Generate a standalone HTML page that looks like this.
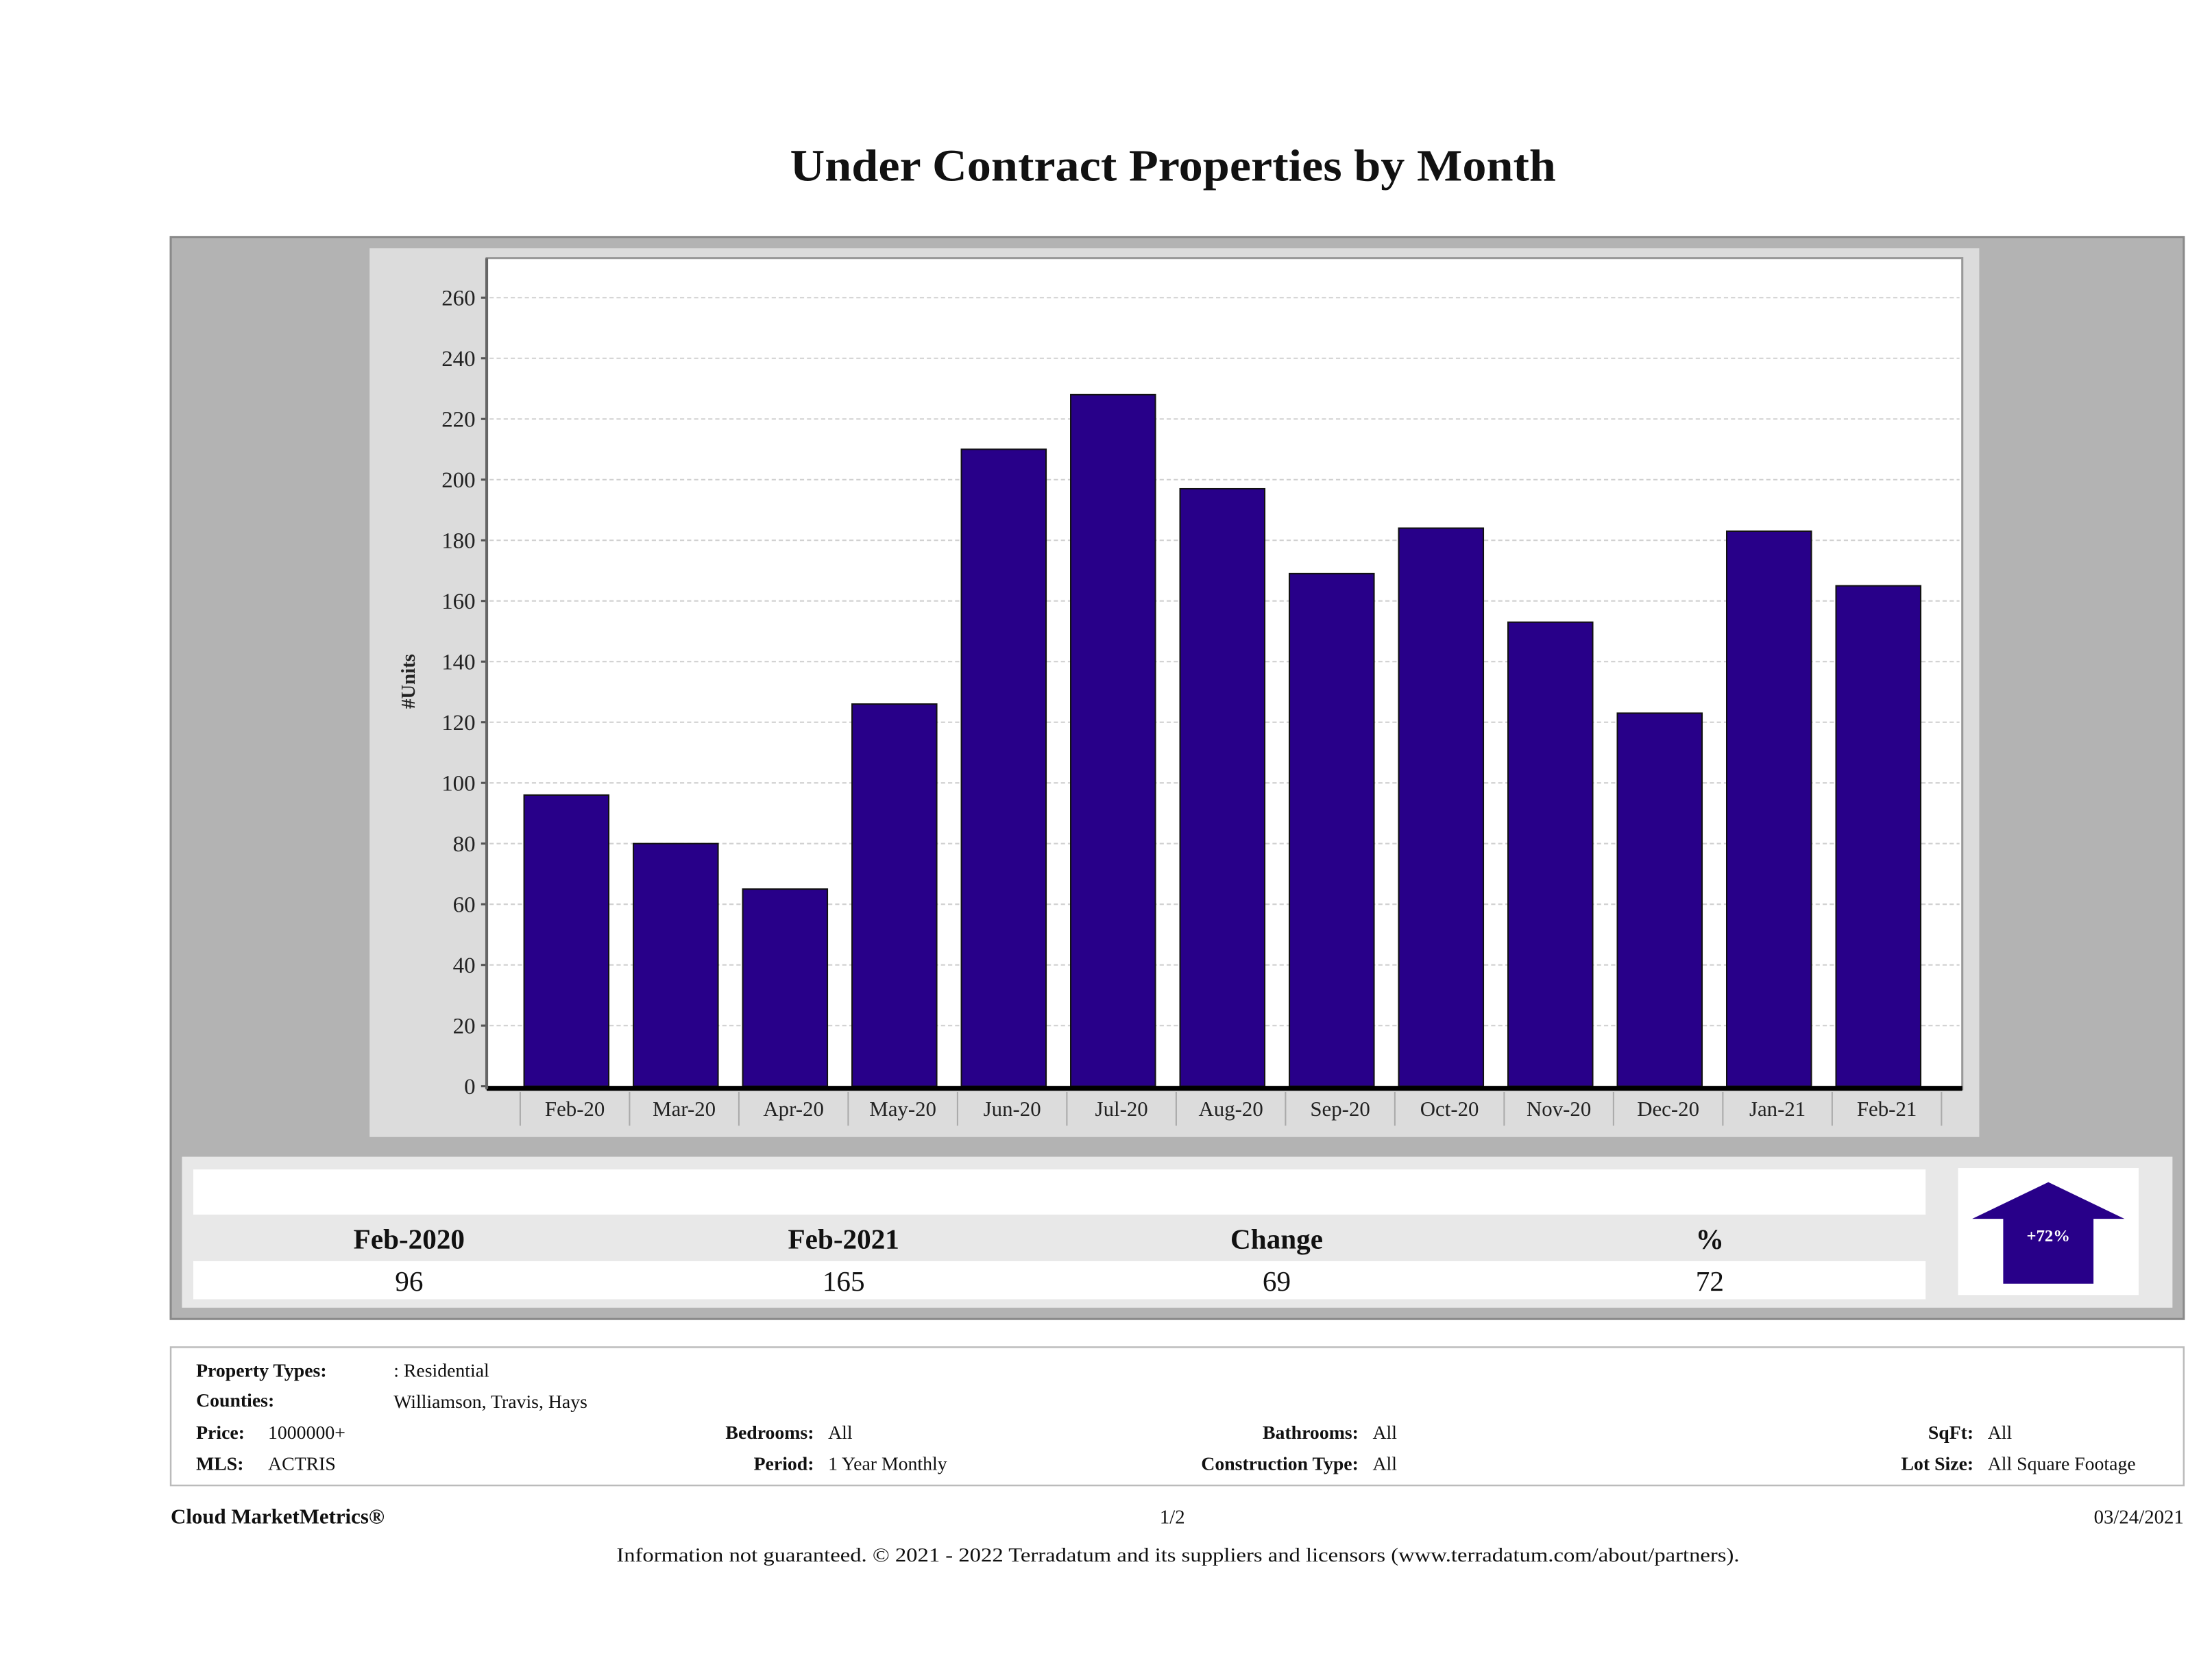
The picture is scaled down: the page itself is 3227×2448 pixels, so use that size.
<!DOCTYPE html>
<html><head><meta charset="utf-8"><style>
html,body{margin:0;padding:0;background:#fff;}
svg{display:block;font-family:"Liberation Serif","DejaVu Serif",serif;}
</style></head><body>
<svg id="chart" width="3227" height="2448" viewBox="0 0 1568 1189.5" xmlns="http://www.w3.org/2000/svg">
<rect x="0" y="0" width="1568" height="1189.5" fill="#fff"/>
<text x="560" y="128" textLength="543" lengthAdjust="spacingAndGlyphs" font-size="32" font-weight="bold" fill="#111">Under Contract Properties by Month</text>
<rect x="121" y="168" width="1427" height="767" fill="#b3b3b3" stroke="#8a8a8a" stroke-width="1.5"/>
<rect x="262" y="176" width="1141" height="630" fill="#dcdcdc"/>
<rect x="345" y="183" width="1046" height="589" fill="#fff" stroke="#999" stroke-width="1.5"/>
<g id="grid"></g>
<g id="bars"></g>
<g id="xaxis"></g>
<g id="yaxis"></g>
<text transform="translate(294,483) rotate(-90)" text-anchor="middle" font-size="14" font-weight="bold" fill="#222">#Units</text>

<rect x="129" y="820" width="1411" height="107" fill="#e8e8e8"/>
<rect x="137" y="829" width="1228" height="32" fill="#fff"/>
<rect x="137" y="894" width="1228" height="27" fill="#fff"/>
<g font-size="20" text-anchor="middle" fill="#111">
<text x="290" y="885" font-weight="bold">Feb-2020</text>
<text x="598" y="885" font-weight="bold">Feb-2021</text>
<text x="905" y="885" font-weight="bold">Change</text>
<text x="1212" y="885" font-weight="bold">%</text>
<text x="290" y="915">96</text>
<text x="598" y="915">165</text>
<text x="905" y="915">69</text>
<text x="1212" y="915">72</text>
</g>
<rect x="1388" y="828" width="128" height="90" fill="#fff"/>
<polygon points="1452,838 1506,864 1484,864 1484,910 1420,910 1420,864 1398,864" fill="#280089"/>
<text x="1452" y="880" text-anchor="middle" font-size="12" font-weight="bold" fill="#fff">+72%</text>

<rect x="121" y="955" width="1427" height="98" fill="#fff" stroke="#bbb" stroke-width="1.2"/>
<g font-size="13.5" fill="#111">
<text x="139" y="976" font-weight="bold">Property Types:</text>
<text x="279" y="976">: Residential</text>
<text x="139" y="997" font-weight="bold">Counties:</text>
<text x="279" y="998">Williamson, Travis, Hays</text>
<text x="139" y="1020" font-weight="bold">Price:</text>
<text x="190" y="1020">1000000+</text>
<text x="139" y="1042" font-weight="bold">MLS:</text>
<text x="190" y="1042">ACTRIS</text>
<text x="577" y="1020" font-weight="bold" text-anchor="end">Bedrooms:</text>
<text x="587" y="1020">All</text>
<text x="577" y="1042" font-weight="bold" text-anchor="end">Period:</text>
<text x="587" y="1042">1 Year Monthly</text>
<text x="963" y="1020" font-weight="bold" text-anchor="end">Bathrooms:</text>
<text x="973" y="1020">All</text>
<text x="963" y="1042" font-weight="bold" text-anchor="end">Construction Type:</text>
<text x="973" y="1042">All</text>
<text x="1399" y="1020" font-weight="bold" text-anchor="end">SqFt:</text>
<text x="1409" y="1020">All</text>
<text x="1399" y="1042" font-weight="bold" text-anchor="end">Lot Size:</text>
<text x="1409" y="1042">All Square Footage</text>
</g>
<text x="121" y="1080" font-size="15" font-weight="bold" fill="#111">Cloud MarketMetrics®</text>
<text x="831" y="1080" font-size="14" text-anchor="middle" fill="#111">1/2</text>
<text x="1548" y="1080" font-size="14" text-anchor="end" fill="#111">03/24/2021</text>
<text x="437" y="1107" textLength="796" lengthAdjust="spacingAndGlyphs" font-size="14" fill="#111">Information not guaranteed. © 2021 - 2022 Terradatum and its suppliers and licensors (www.terradatum.com/about/partners).</text>
</svg>
<script>
const categories = ["Feb-20","Mar-20","Apr-20","May-20","Jun-20","Jul-20","Aug-20","Sep-20","Oct-20","Nov-20","Dec-20","Jan-21","Feb-21"];
const unitValues = [96,80,65,126,210,228,197,169,184,153,123,183,165];
const yTicks = [0,20,40,60,80,100,120,140,160,180,200,220,240,260];

const NS = "http://www.w3.org/2000/svg";
const plotLeft = 345, plotRight = 1391, y0px = 770, y260px = 211;
function yScale(v){ return y0px - (v/260)*(y0px - y260px); }
const firstCenter = 401.5, step = 77.5, barW = 60;
function xCenter(i){ return firstCenter + i*step; }
function mk(tag, attrs, parent){
  const e = document.createElementNS(NS, tag);
  for (const k in attrs) e.setAttribute(k, attrs[k]);
  parent.appendChild(e);
  return e;
}
const grid = document.getElementById('grid');
const yaxis = document.getElementById('yaxis');
yTicks.forEach(t => {
  const y = yScale(t);
  if (t > 0) {
    const g = mk('line', {x1: plotLeft+2, x2: plotRight-2, y1: y, y2: y, stroke: '#d0d0d0', 'stroke-width': 1, 'stroke-dasharray': '3,2'}, grid);
    
    
  }
  const tk = mk('line', {x1: plotLeft-4, x2: plotLeft, y1: y, y2: y, stroke: '#555', 'stroke-width': 1.5}, yaxis);
  
  
  const tx = mk('text', {x: plotLeft-8, y: y+5.5, 'text-anchor': 'end', 'font-size': 16, fill: '#222'}, yaxis);
  tx.textContent = t;
  
  
});
const ax = mk('line', {x1: plotLeft, x2: plotLeft, y1: 183, y2: 772, stroke: '#666', 'stroke-width': 2}, yaxis);



const bars = document.getElementById('bars');
unitValues.forEach((v, i) => {
  const y = yScale(v);
  const r = mk('rect', {x: xCenter(i)-barW/2, y: y, width: barW, height: y0px - y, fill: '#280089', stroke: '#111', 'stroke-width': 1}, bars);
  
  
});

const xaxis = document.getElementById('xaxis');
const base = mk('line', {x1: plotLeft, x2: plotRight, y1: 771.5, y2: 771.5, stroke: '#000', 'stroke-width': 3.5}, xaxis);


for (let i = 0; i <= categories.length; i++) {
  const x = xCenter(i) - step/2 + 6;
  const s = mk('line', {x1: x, x2: x, y1: 774, y2: 798, stroke: '#aaa', 'stroke-width': 1}, xaxis);
  
  
}
categories.forEach((c, i) => {
  const t = mk('text', {x: xCenter(i)+6, y: 791, 'text-anchor': 'middle', 'font-size': 15, fill: '#222'}, xaxis);
  t.textContent = c;
  
  
});
</script>
</body></html>
